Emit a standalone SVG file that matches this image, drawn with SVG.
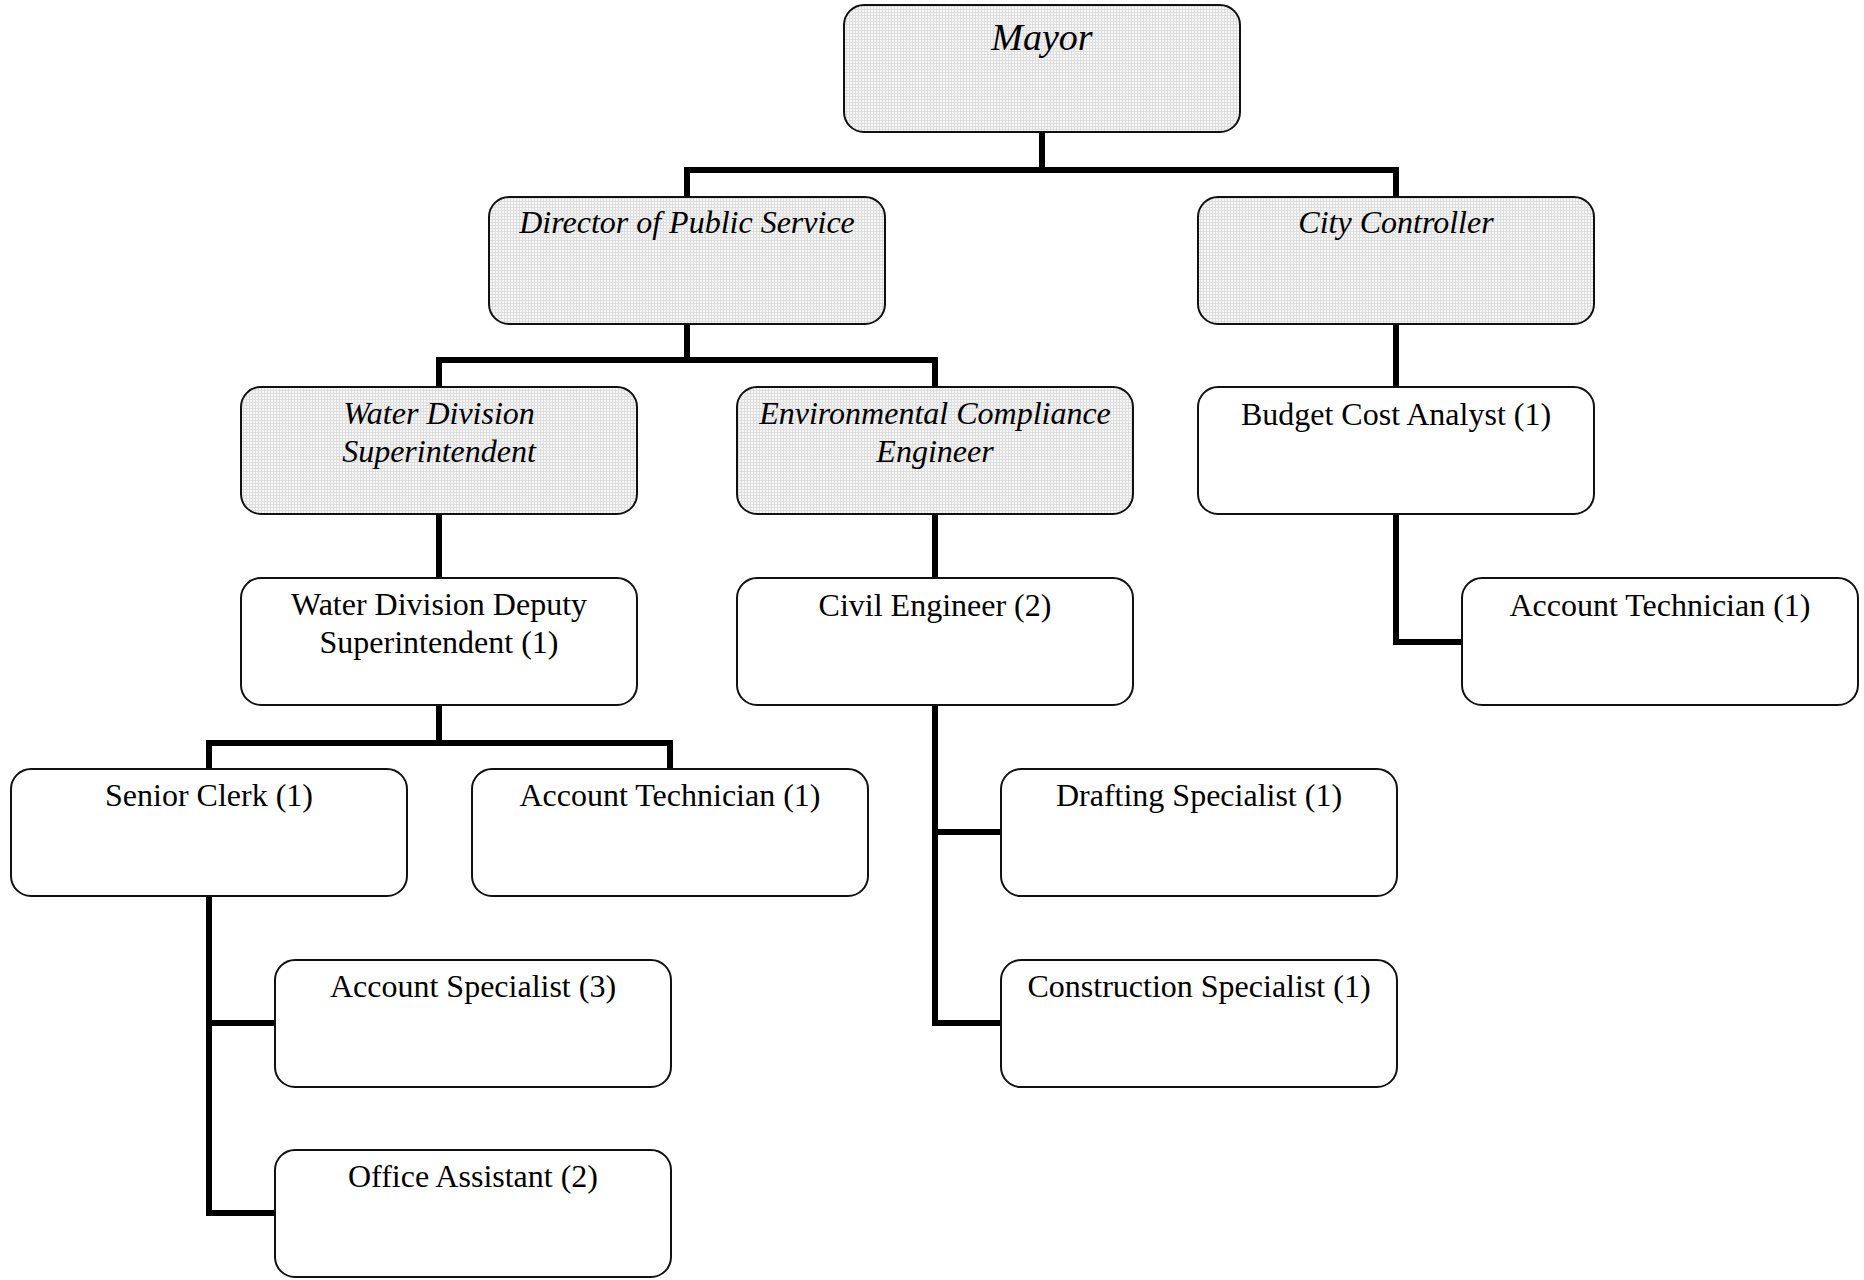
<svg xmlns="http://www.w3.org/2000/svg" width="1864" height="1280" viewBox="0 0 1864 1280">
<defs>
<pattern id="hatch" width="3" height="3" patternUnits="userSpaceOnUse">
<rect width="3" height="3" fill="#f6f6f6"/>
<rect width="3" height="1" fill="#dedede"/>
<rect width="1" height="3" fill="#dedede"/>
</pattern>
</defs>
<style>
.box{stroke:#111;stroke-width:2;}
.shade{fill:url(#hatch);}
.plain{fill:#fff;}
.t{font-family:"Liberation Serif","Times New Roman",serif;font-size:32px;fill:#000;text-anchor:middle;}
.i{font-style:italic;}
.conn{fill:none;stroke:#000;stroke-width:6;stroke-linejoin:miter;stroke-linecap:butt;}
</style>
<rect width="1864" height="1280" fill="#fff"/>
<g id="connectors">
<path class="conn" d="M1042,132 V170 M687,197 V170 H1396 V197"/>
<path class="conn" d="M687,323 V360 M439,387 V360 H935 V387"/>
<path class="conn" d="M1396,323 V387"/>
<path class="conn" d="M439,514 V578"/>
<path class="conn" d="M935,514 V578"/>
<path class="conn" d="M1396,514 V642 H1462"/>
<path class="conn" d="M439,705 V743 M209,769 V743 H670 V769"/>
<path class="conn" d="M935,705 V1023 H1001 M935,832 H1001"/>
<path class="conn" d="M209,896 V1213 H275 M209,1023 H275"/>
</g>
<g id="mayor"><rect class="box shade" x="844" y="5" width="396" height="127" rx="20"/><text class="t i" x="1042" y="50" style="font-size:38px">Mayor</text></g>
<g id="director"><rect class="box shade" x="489" y="197" width="396" height="127" rx="20"/><text class="t i" x="687" y="233">Director of Public Service</text></g>
<g id="controller"><rect class="box shade" x="1198" y="197" width="396" height="127" rx="20"/><text class="t i" x="1396" y="233">City Controller</text></g>
<g id="water-sup"><rect class="box shade" x="241" y="387" width="396" height="127" rx="20"/><text class="t i" x="439" y="424">Water Division</text><text class="t i" x="439" y="462">Superintendent</text></g>
<g id="env-eng"><rect class="box shade" x="737" y="387" width="396" height="127" rx="20"/><text class="t i" x="935" y="424">Environmental Compliance</text><text class="t i" x="935" y="462">Engineer</text></g>
<g id="budget"><rect class="box plain" x="1198" y="387" width="396" height="127" rx="20"/><text class="t" x="1396" y="425">Budget Cost Analyst (1)</text></g>
<g id="deputy"><rect class="box plain" x="241" y="578" width="396" height="127" rx="20"/><text class="t" x="439" y="615">Water Division Deputy</text><text class="t" x="439" y="653">Superintendent (1)</text></g>
<g id="civil"><rect class="box plain" x="737" y="578" width="396" height="127" rx="20"/><text class="t" x="935" y="616">Civil Engineer (2)</text></g>
<g id="acct-tech-cc"><rect class="box plain" x="1462" y="578" width="396" height="127" rx="20"/><text class="t" x="1660" y="616">Account Technician (1)</text></g>
<g id="senior-clerk"><rect class="box plain" x="11" y="769" width="396" height="127" rx="20"/><text class="t" x="209" y="806">Senior Clerk (1)</text></g>
<g id="acct-tech-wd"><rect class="box plain" x="472" y="769" width="396" height="127" rx="20"/><text class="t" x="670" y="806">Account Technician (1)</text></g>
<g id="drafting"><rect class="box plain" x="1001" y="769" width="396" height="127" rx="20"/><text class="t" x="1199" y="806">Drafting Specialist (1)</text></g>
<g id="acct-spec"><rect class="box plain" x="275" y="960" width="396" height="127" rx="20"/><text class="t" x="473" y="997">Account Specialist (3)</text></g>
<g id="construction"><rect class="box plain" x="1001" y="960" width="396" height="127" rx="20"/><text class="t" x="1199" y="997">Construction Specialist (1)</text></g>
<g id="office-asst"><rect class="box plain" x="275" y="1150" width="396" height="127" rx="20"/><text class="t" x="473" y="1187">Office Assistant (2)</text></g>
</svg>
